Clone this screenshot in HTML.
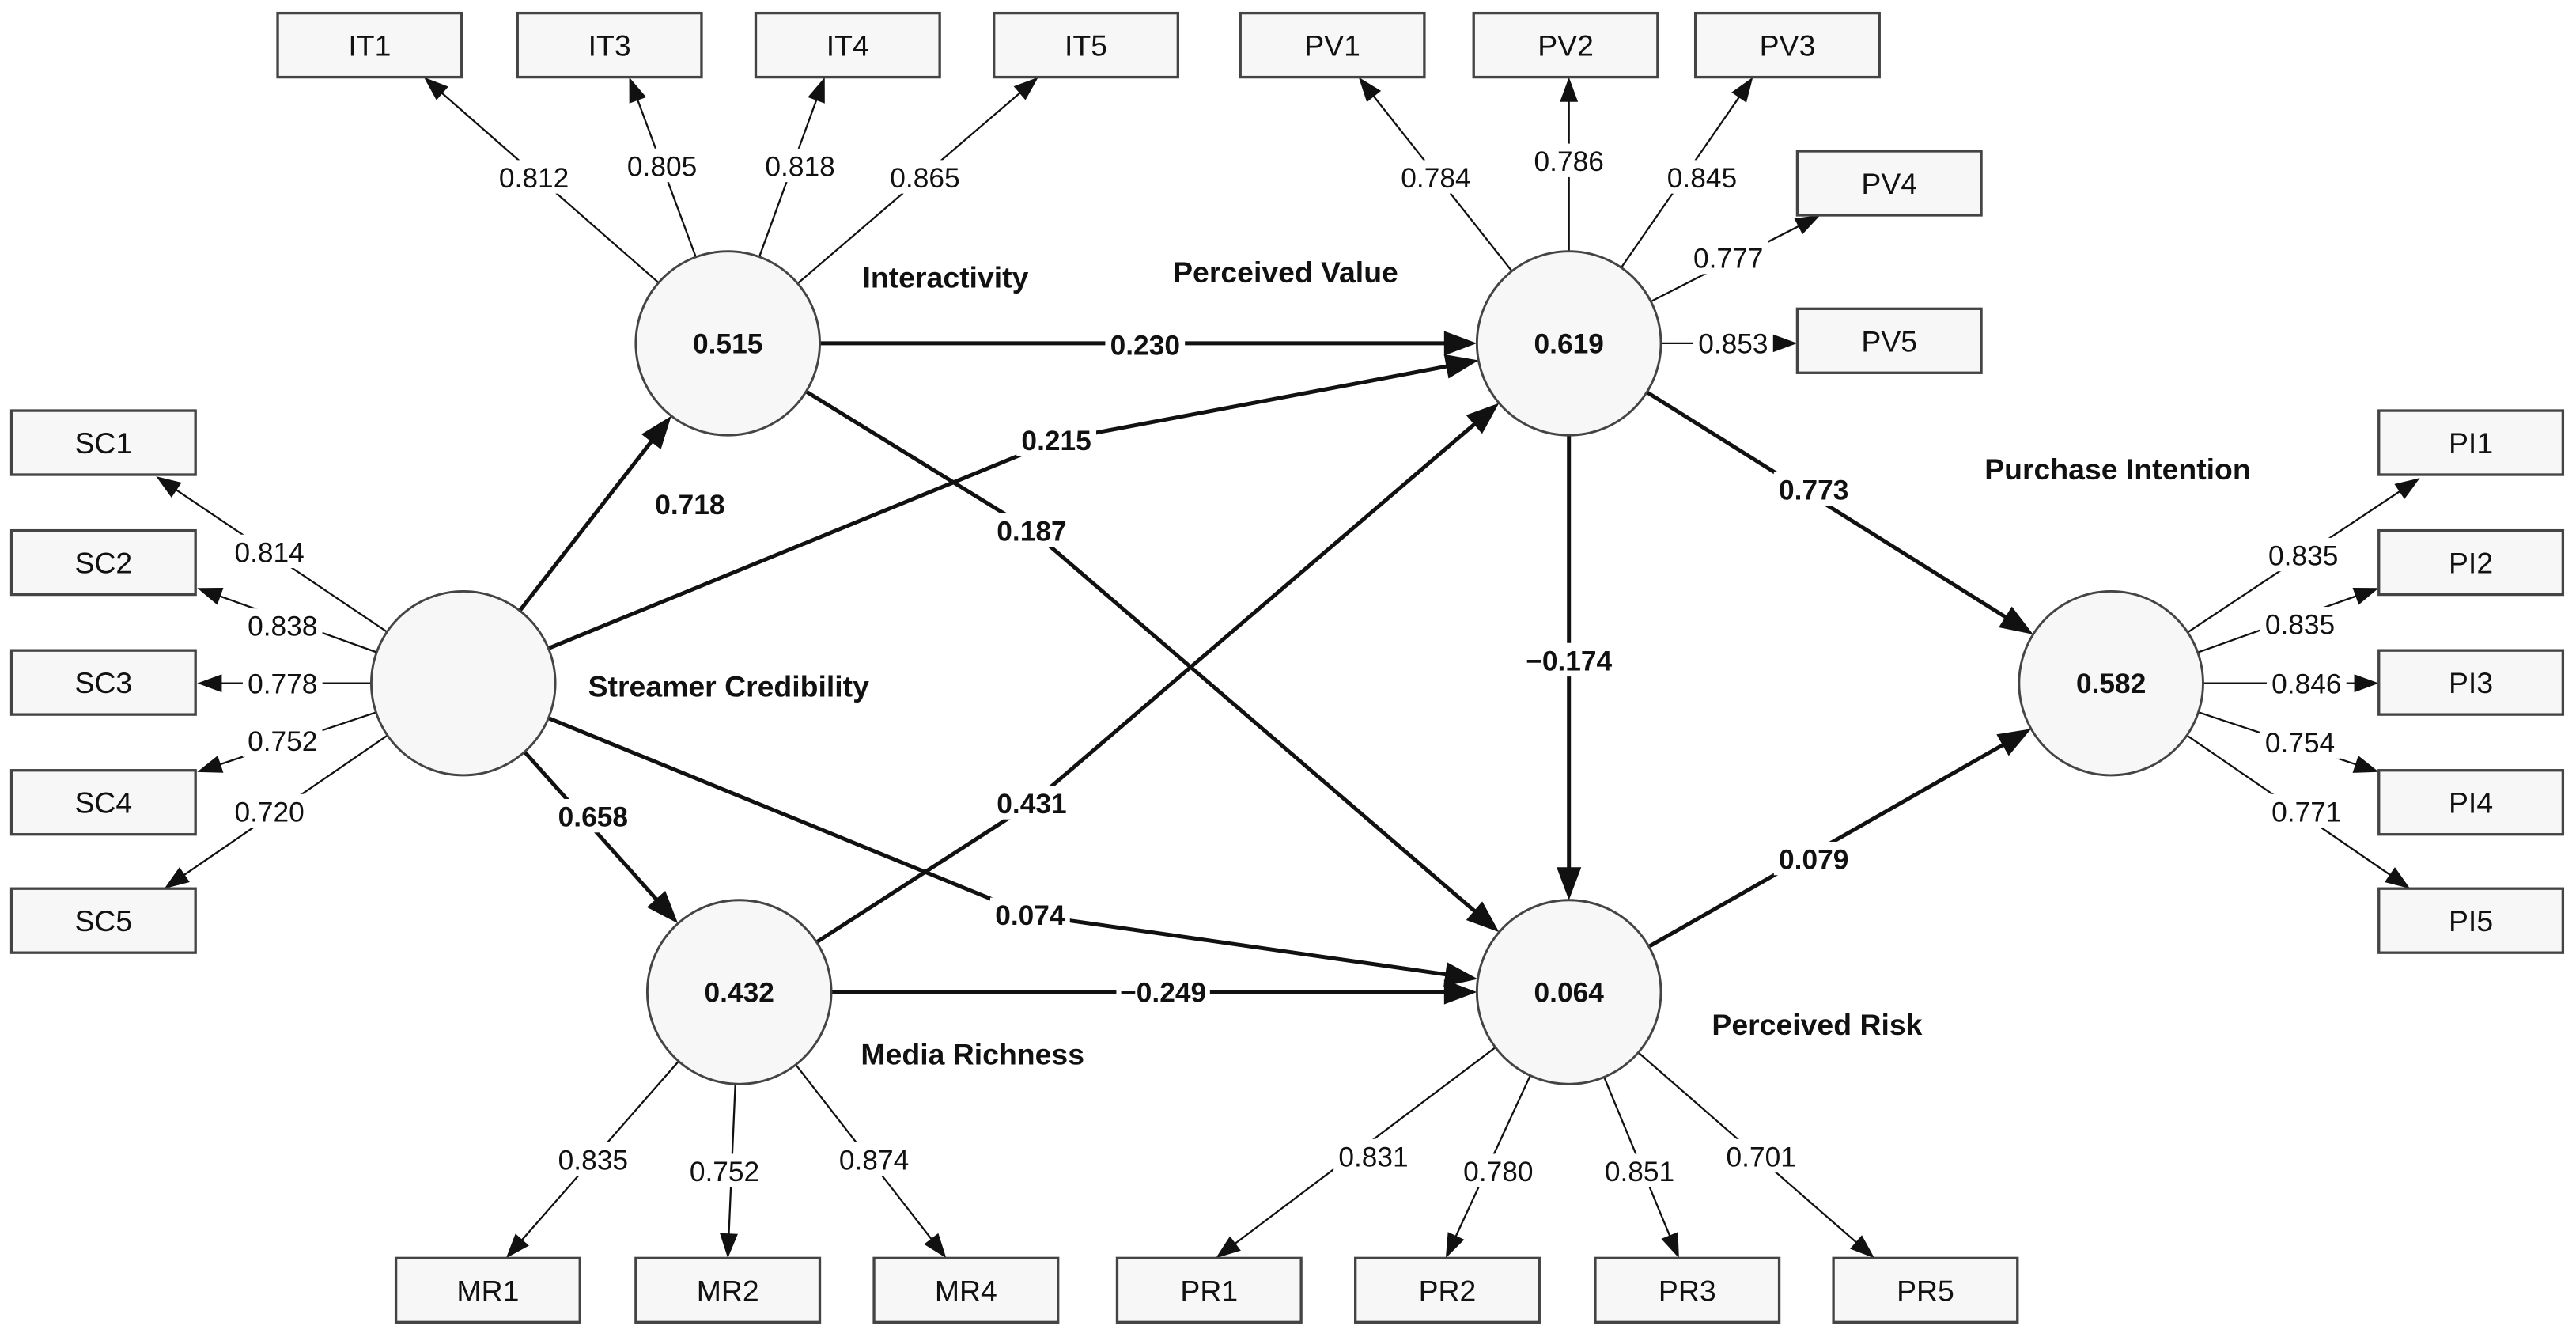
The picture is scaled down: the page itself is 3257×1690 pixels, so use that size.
<!DOCTYPE html>
<html><head><meta charset="utf-8"><style>
html,body{margin:0;padding:0;background:#fff}
svg{display:block}
text{font-family:"Liberation Sans",Arial,sans-serif}
</style></head><body>
<svg id="s" xmlns="http://www.w3.org/2000/svg" width="3257" height="1690" viewBox="0 0 1568 814" preserveAspectRatio="none"></svg>
<script>
const S=document.getElementById('s');const NS='http://www.w3.org/2000/svg';
function el(t,a,txt){const e=document.createElementNS(NS,t);for(const k in a)e.setAttribute(k,a[k]);if(txt!==undefined)e.textContent=txt;S.appendChild(e);return e;}
const C={IT:[443,209],SC:[282,416],MR:[450,604],PV:[955,209],PR:[955,604],PI:[1285,416]};
const R=56;
function arrow(x1,y1,x2,y2,w,L,W){
  const dx=x2-x1,dy=y2-y1,d=Math.hypot(dx,dy),ux=dx/d,uy=dy/d;
  const bx=x2-ux*L,by=y2-uy*L;
  el('line',{x1:x1,y1:y1,x2:bx+ux*1,y2:by+uy*1,stroke:'#111','stroke-width':w});
  el('polygon',{points:`${x2},${y2} ${bx-uy*W/2},${by+ux*W/2} ${bx+uy*W/2},${by-ux*W/2}`,fill:'#111'});
}
function fromCircle(c,tx,ty){const [cx,cy]=C[c];const dx=tx-cx,dy=ty-cy,d=Math.hypot(dx,dy);return [cx+dx/d*R,cy+dy/d*R];}
function label(x,y,t,bold,size){
  size=size||17;const w=t.length*size*0.5+6;
  el('rect',{x:x-w/2,y:y-size*0.62,width:w,height:size*1.2,fill:'#fff'});
  el('text',{x:x,y:y+size*0.36,'text-anchor':'middle','font-size':size,'font-weight':bold?'bold':'normal',fill:'#111'},t);
}
// structural paths [from,to,bend]
const P=[['IT','PV'],['SC','PV',[643,268]],['SC','IT'],['IT','PR',[628,323]],['SC','MR'],['MR','PV',[628,489]],['SC','PR',[627,557]],['MR','PR'],['PV','PR'],['PV','PI'],['PR','PI']];
P.forEach(([a,b,m])=>{const [ax,ay]=C[a],[bx,by]=C[b];
  if(m){const s=fromCircle(a,m[0],m[1]),e=fromCircle(b,m[0],m[1]);
    el('line',{x1:s[0],y1:s[1],x2:m[0],y2:m[1],stroke:'#111','stroke-width':2.4,'stroke-linecap':'round'});
    arrow(m[0],m[1],e[0],e[1],2.4,20,15);}
  else{const s=fromCircle(a,bx,by),e=fromCircle(b,ax,ay);arrow(s[0],s[1],e[0],e[1],2.4,20,15);}});
// boxes
const B={IT1:[169,8],IT3:[315,8],IT4:[460,8],IT5:[605,8],PV1:[755,8],PV2:[897,8],PV3:[1032,8],PV4:[1094,92],PV5:[1094,188],
SC1:[7,250],SC2:[7,323],SC3:[7,396],SC4:[7,469],SC5:[7,541],
PI1:[1448,250],PI2:[1448,323],PI3:[1448,396],PI4:[1448,469],PI5:[1448,541],
MR1:[241,766],MR2:[387,766],MR4:[532,766],PR1:[680,766],PR2:[825,766],PR3:[971,766],PR5:[1116,766]};
// loadings
const Ld=[['IT',258,47],['IT',383,47],['IT',502,47],['IT',632,47],['PV',827,47],['PV',955,47],['PV',1067,47],['PV',1108,131],['PV',1094,209],
['SC',95,290],['SC',120,358],['SC',120,416],['SC',120,470],['SC',100,541],
['MR',308,766],['MR',443,766],['MR',576,766],['PR',740,766],['PR',880,766],['PR',1022,766],['PR',1141,766],
['PI',1473,291],['PI',1448,358],['PI',1448,416],['PI',1448,470],['PI',1467,541]];
Ld.forEach(([c,x,y])=>{const s=fromCircle(c,x,y);arrow(s[0],s[1],x,y,1.1,15,11);});
for(const k in B){const [x,y]=B[k];el('rect',{x:x,y:y,width:112,height:39,fill:'#f7f7f7',stroke:'#444','stroke-width':1.6});
el('text',{x:x+56,y:y+26,'text-anchor':'middle','font-size':18,fill:'#111'},k);}
// circles
const CV={IT:'0.515',SC:'',MR:'0.432',PV:'0.619',PR:'0.064',PI:'0.582'};
for(const k in C){const [x,y]=C[k];el('circle',{cx:x,cy:y,r:R,fill:'#f7f7f7',stroke:'#444','stroke-width':1.4});
if(CV[k])el('text',{x:x,y:y+6,'text-anchor':'middle','font-size':17,'font-weight':'bold',fill:'#111'},CV[k]);}
// loading labels
[[325,108,'0.812'],[403,101,'0.805'],[487,101,'0.818'],[563,108,'0.865'],[874,108,'0.784'],[955,98,'0.786'],[1036,108,'0.845'],[1052,157,'0.777'],[1055,209,'0.853'],
[164,336,'0.814'],[172,381,'0.838'],[172,416,'0.778'],[172,451,'0.752'],[164,494,'0.720'],
[361,706,'0.835'],[441,713,'0.752'],[532,706,'0.874'],[836,704,'0.831'],[912,713,'0.780'],[998,713,'0.851'],[1072,704,'0.701'],
[1402,338,'0.835'],[1400,380,'0.835'],[1404,416,'0.846'],[1400,452,'0.754'],[1404,494,'0.771']].forEach(a=>label(a[0],a[1],a[2],false,17));
// path labels
[[697,210,'0.230'],[643,268,'0.215'],[420,307,'0.718'],[628,323,'0.187'],[361,497,'0.658'],[628,489,'0.431'],[627,557,'0.074'],[708,604,'\u22120.249'],[1104,298,'0.773'],[955,402,'\u22120.174'],[1104,523,'0.079']].forEach(a=>label(a[0],a[1],a[2],true,17));
// construct names
[[525,175,'Interactivity'],[714,172,'Perceived Value'],[358,424,'Streamer Credibility'],[524,648,'Media Richness'],[1042,630,'Perceived Risk'],[1208,292,'Purchase Intention']].forEach(a=>
el('text',{x:a[0],y:a[1],'font-size':18,'font-weight':'bold',fill:'#111'},a[2]));
</script>
</body></html>
